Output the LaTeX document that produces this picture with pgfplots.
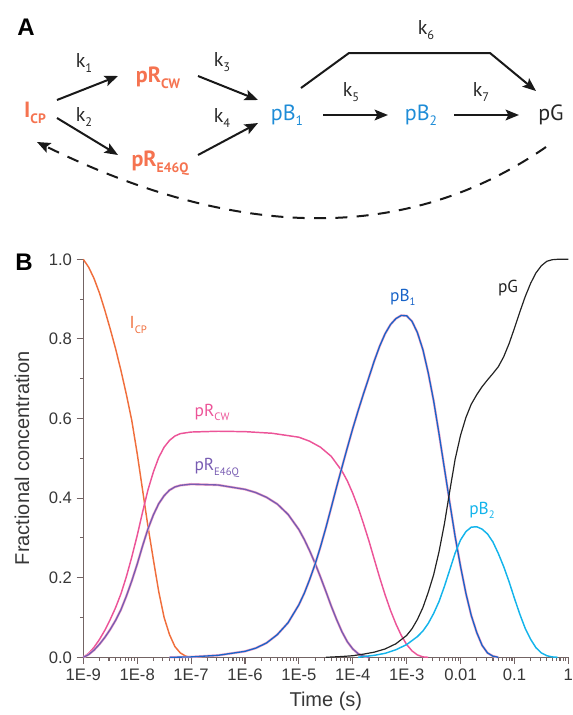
\documentclass[border=0pt]{standalone}
\usepackage{pgfplots}
\pgfplotsset{compat=1.18}
\usepackage{pgfplotstable}
\usepackage{graphicx}
\usepackage{fontspec}
\setmainfont{Liberation Sans}
\newfontfamily\myr{PT Sans}
\usetikzlibrary{arrows.meta}
\definecolor{cICP}{RGB}{240,110,60}
\definecolor{cRCW}{RGB}{236,84,152}
\definecolor{cRE}{RGB}{120,92,178}
\definecolor{cB1}{RGB}{25,100,200}
\definecolor{cB2}{RGB}{20,180,235}
\definecolor{cG}{RGB}{35,35,35}
\definecolor{salmon}{RGB}{245,115,80}
\definecolor{sblue}{RGB}{30,140,215}
\definecolor{axgray}{RGB}{115,100,100}
\definecolor{txgray}{RGB}{55,55,55}
\newcommand{\sub}[1]{\raisebox{-0.5ex}{\scalebox{0.62}{#1}}}

\pgfplotstableread{
t v
1e-9 1.000
1.26e-9 0.980
1.58e-9 0.952
2.00e-9 0.915
2.51e-9 0.872
3.16e-9 0.825
3.98e-9 0.775
5.01e-9 0.720
6.31e-9 0.660
7.94e-9 0.595
1e-8 0.512
1.26e-8 0.420
1.58e-8 0.330
2.00e-8 0.245
2.51e-8 0.165
3.16e-8 0.100
3.98e-8 0.057
5.01e-8 0.027
6.31e-8 0.011
7.94e-8 0.003
1e-7 0.000
}\tICP

\pgfplotstableread{
t v
1e-9 0.000
1.26e-9 0.010
1.58e-9 0.025
2.00e-9 0.045
2.51e-9 0.068
3.16e-9 0.095
3.98e-9 0.125
5.01e-9 0.160
6.31e-9 0.203
7.94e-9 0.252
1e-8 0.306
1.26e-8 0.365
1.58e-8 0.420
2.00e-8 0.466
2.51e-8 0.502
3.16e-8 0.528
3.98e-8 0.545
5.01e-8 0.556
6.31e-8 0.562
1e-7 0.566
3.16e-7 0.568
1e-6 0.567
3.16e-6 0.563
1e-5 0.553
1.58e-5 0.543
2.51e-5 0.528
3.98e-5 0.505
6.31e-5 0.468
7.94e-5 0.443
1e-4 0.412
1.26e-4 0.376
1.58e-4 0.336
2.00e-4 0.292
2.51e-4 0.246
3.16e-4 0.200
3.98e-4 0.157
5.01e-4 0.118
6.31e-4 0.084
7.94e-4 0.055
1e-3 0.032
1.26e-3 0.016
1.58e-3 0.006
2.00e-3 0.001
2.51e-3 0.000
}\tRCW

\pgfplotstableread{
t v
1e-9 0.000
1.26e-9 0.007
1.58e-9 0.018
2.00e-9 0.033
2.51e-9 0.050
3.16e-9 0.070
3.98e-9 0.093
5.01e-9 0.120
6.31e-9 0.154
7.94e-9 0.192
1e-8 0.234
1.26e-8 0.280
1.58e-8 0.322
2.00e-8 0.358
2.51e-8 0.386
3.16e-8 0.406
3.98e-8 0.420
5.01e-8 0.428
6.31e-8 0.432
1e-7 0.435
3.16e-7 0.433
1e-6 0.422
1.58e-6 0.414
2.51e-6 0.402
3.98e-6 0.385
6.31e-6 0.359
1e-5 0.321
1.26e-5 0.296
1.58e-5 0.268
2.00e-5 0.236
2.51e-5 0.202
3.16e-5 0.166
3.98e-5 0.129
5.01e-5 0.095
6.31e-5 0.064
7.94e-5 0.039
1e-4 0.021
1.26e-4 0.009
1.58e-4 0.003
2.00e-4 0.000
}\tRE

\pgfplotstableread{
t v
3.98e-8 0.000
1e-7 0.001
3.16e-7 0.005
1e-6 0.015
1.58e-6 0.023
2.51e-6 0.036
3.98e-6 0.057
6.31e-6 0.087
1e-5 0.132
1.26e-5 0.161
1.58e-5 0.195
2.00e-5 0.234
2.51e-5 0.277
3.16e-5 0.325
3.98e-5 0.376
5.01e-5 0.428
6.31e-5 0.478
7.94e-5 0.527
1e-4 0.575
1.26e-4 0.620
1.58e-4 0.662
2.00e-4 0.704
2.51e-4 0.745
3.16e-4 0.782
3.98e-4 0.813
5.01e-4 0.836
6.31e-4 0.851
7.94e-4 0.859
1e-3 0.858
1.26e-3 0.844
1.58e-3 0.816
2.00e-3 0.773
2.51e-3 0.715
3.16e-3 0.645
3.98e-3 0.562
5.01e-3 0.475
6.31e-3 0.388
7.94e-3 0.303
1e-2 0.228
1.26e-2 0.160
1.58e-2 0.105
2.00e-2 0.062
2.51e-2 0.030
3.16e-2 0.011
3.98e-2 0.003
5.01e-2 0.000
}\tBone

\pgfplotstableread{
t v
1.26e-4 0.000
1.58e-4 0.002
2.51e-4 0.005
3.98e-4 0.010
6.31e-4 0.019
1e-3 0.032
1.58e-3 0.052
2.00e-3 0.066
2.51e-3 0.085
3.16e-3 0.110
3.98e-3 0.140
5.01e-3 0.178
6.31e-3 0.220
7.94e-3 0.262
1e-2 0.295
1.26e-2 0.316
1.58e-2 0.327
2.00e-2 0.328
2.51e-2 0.322
3.16e-2 0.310
3.98e-2 0.290
5.01e-2 0.261
6.31e-2 0.228
7.94e-2 0.190
1e-1 0.148
1.26e-1 0.108
1.58e-1 0.073
2.00e-1 0.045
2.51e-1 0.024
3.16e-1 0.011
3.98e-1 0.004
5.01e-1 0.001
6.31e-1 0.000
}\tBtwo

\pgfplotstableread{
t v
3.16e-5 0.000
6.31e-5 0.002
1e-4 0.004
1.58e-4 0.008
2.51e-4 0.013
3.98e-4 0.021
6.31e-4 0.034
1e-3 0.055
1.26e-3 0.072
1.58e-3 0.095
2.00e-3 0.125
2.51e-3 0.163
3.16e-3 0.207
3.98e-3 0.265
5.01e-3 0.335
6.31e-3 0.418
7.94e-3 0.498
1e-2 0.558
1.26e-2 0.603
1.58e-2 0.636
2.00e-2 0.660
2.51e-2 0.680
3.16e-2 0.697
3.98e-2 0.713
5.01e-2 0.730
6.31e-2 0.755
7.94e-2 0.788
1e-1 0.827
1.26e-1 0.868
1.58e-1 0.906
2.00e-1 0.940
2.51e-1 0.966
3.16e-1 0.984
3.98e-1 0.995
5.01e-1 0.999
6.31e-1 1.000
1 1.000
}\tG

\begin{document}
\begin{tikzpicture}
\path[use as bounding box] (0,0) rectangle (429.75pt,-536.25pt);
% ---------- panel A (scheme), coordinates in reference pixels ----------
\begin{scope}[x=0.75pt,y=-0.75pt]
\node[font=\fontsize{18}{20}\selectfont\bfseries] at (26,27) {A};
\node[font=\fontsize{18}{20}\selectfont\bfseries] at (24,262) {B};
\begin{scope}[font=\myr\fontsize{16.5}{18}\selectfont]
\node[text=salmon] at (35,113) {\bfseries I\sub{CP}};
\node[text=salmon] at (158,78) {\bfseries pR\sub{CW}};
\node[text=salmon] at (160,163) {\bfseries pR\sub{E46Q}};
\node[text=sblue] at (287,115) {pB\sub{1}};
\node[text=sblue] at (421,115) {pB\sub{2}};
\node[text=black!85] at (551,115) {pG};
\end{scope}
\begin{scope}[font=\myr\fontsize{15}{17}\selectfont,text=black!85]
\node at (84,63) {k\sub{1}};
\node at (84,117) {k\sub{2}};
\node at (222,62) {k\sub{3}};
\node at (222,118) {k\sub{4}};
\node at (351,92) {k\sub{5}};
\node at (426,30) {k\sub{6}};
\node at (481,92) {k\sub{7}};
\end{scope}
\begin{scope}[line width=1.5pt,black!90,-{Stealth[length=10pt,width=8pt,inset=2pt]}]
\draw (57,100) -- (118,76);
\draw (57,118) -- (118,155);
\draw (198,76) -- (258,100);
\draw (198,155) -- (258,123);
\draw (323,115) -- (388,115);
\draw (454,115) -- (519,115);
\draw (301,88) -- (349,53) -- (490,53) -- (536,91);
\draw[dash pattern=on 9pt off 7pt] (546,147) .. controls (381,261) and (198,221) .. (37,142);
\end{scope}
\end{scope}
% ---------- panel B ----------
\begin{axis}[
  at={(62.475pt,-492.975pt)}, anchor=south west,
  scale only axis, width=363.8pt, height=298.5pt,
  xmode=log, xmin=1e-9, xmax=1, ymin=0, ymax=1,
  axis x line*=bottom, axis y line*=left,
  axis line style={-, axgray, line width=0.9pt},
  every tick/.style={axgray, line width=0.8pt},
  tick align=outside,
  major tick length=5pt, minor tick length=2.6pt,
  xtick={1e-9,1e-8,1e-7,1e-6,1e-5,1e-4,1e-3,1e-2,1e-1,1},
  xticklabels={\mbox{1E-9},\mbox{1E-8},\mbox{1E-7},\mbox{1E-6},\mbox{1E-5},\mbox{1E-4},\mbox{1E-3},\mbox{0.01},\mbox{0.1},\mbox{1}},
  minor xtick={2e-9,3e-9,4e-9,5e-9,6e-9,7e-9,8e-9,9e-9,
    2e-8,3e-8,4e-8,5e-8,6e-8,7e-8,8e-8,9e-8,
    2e-7,3e-7,4e-7,5e-7,6e-7,7e-7,8e-7,9e-7,
    2e-6,3e-6,4e-6,5e-6,6e-6,7e-6,8e-6,9e-6,
    2e-5,3e-5,4e-5,5e-5,6e-5,7e-5,8e-5,9e-5,
    2e-4,3e-4,4e-4,5e-4,6e-4,7e-4,8e-4,9e-4,
    2e-3,3e-3,4e-3,5e-3,6e-3,7e-3,8e-3,9e-3,
    2e-2,3e-2,4e-2,5e-2,6e-2,7e-2,8e-2,9e-2,
    2e-1,3e-1,4e-1,5e-1,6e-1,7e-1,8e-1,9e-1},
  ytick={0,0.2,0.4,0.6,0.8,1.0},
  minor ytick={0.1,0.3,0.5,0.7,0.9},
  yticklabel style={/pgf/number format/.cd,fixed,fixed zerofill,precision=1,assume math mode=true},
  ticklabel style={font=\fontsize{12.5}{14}\selectfont, text=txgray},
  xlabel={Time (s)}, ylabel={Fractional concentration},
  label style={font=\fontsize{15}{17}\selectfont, text=txgray},
  xlabel style={at={(axis description cs:0.5,0)}, anchor=center, yshift=-33pt},
  ylabel style={at={(axis description cs:0,0.5)}, anchor=center, yshift=46pt},
  clip=false,
]
\addplot[cICP, line width=1.1pt] table[x=t,y=v] {\tICP};
\addplot[cRCW, line width=1.1pt] table[x=t,y=v] {\tRCW};
\addplot[cRCW!50, line width=1.8pt] table[x=t,y=v] {\tRE};
\addplot[cRE, line width=1.0pt] table[x=t,y=v] {\tRE};
\addplot[cRCW!50, line width=1.8pt] table[x=t,y=v] {\tBone};
\addplot[cB1, line width=1.0pt] table[x=t,y=v] {\tBone};
\addplot[cG, line width=0.9pt] table[x=t,y=v] {\tG};
\addplot[cB2, line width=1.1pt] table[x=t,y=v] {\tBtwo};
\begin{scope}[font=\myr\fontsize{13}{15}\selectfont]
\node[text=cICP] at (axis cs:1.05e-8,0.835) {I\sub{CP}};
\node[text=cRCW] at (axis cs:2.45e-7,0.615) {pR\sub{CW}};
\node[text=cRE] at (axis cs:3.0e-7,0.476) {pR\sub{E46Q}};
\node[text=cB1] at (axis cs:8.5e-4,0.905) {pB\sub{1}};
\node[text=cG] at (axis cs:7.6e-2,0.927) {pG};
\node[text=cB2] at (axis cs:2.5e-2,0.37) {pB\sub{2}};
\end{scope}
\end{axis}
\end{tikzpicture}
\end{document}
